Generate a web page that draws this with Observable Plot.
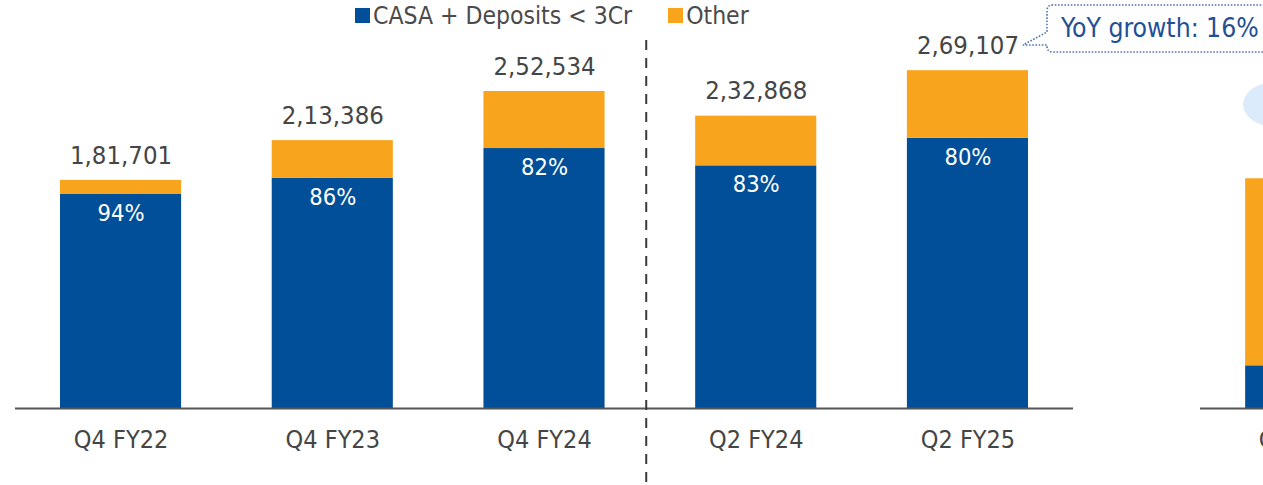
<!DOCTYPE html>
<html>
<head>
<meta charset="utf-8">
<script src="https://cdn.jsdelivr.net/npm/d3@7"></script>
<script src="https://cdn.jsdelivr.net/npm/@observablehq/plot@0.6"></script>
<style>
  html, body { margin: 0; padding: 0; background: #fff; }
  #wrap { position: relative; width: 1263px; height: 485px; overflow: hidden; font-family: "DejaVu Sans Condensed", "DejaVu Sans", sans-serif; }
  #wrap svg { position: absolute; top: 0; }
  .legend { position: absolute; top: 1px; left: 355px; display: flex; align-items: center; font-size: 24.5px; color: #4a4a4a; white-space: nowrap; }
  .legend .sw { display: inline-block; width: 15px; height: 15px; margin-right: 3px; }
  .legend .item { display: flex; align-items: center; margin-right: 36px; }
  .ellipse { position: absolute; left: 1243px; top: 82px; width: 66px; height: 45px; border-radius: 50%; background: #dcebfc; }
  .callout-text { position: absolute; left: 1061px; top: 13px; font-size: 26.3px; color: #1f4f96; white-space: nowrap; }
</style>
</head>
<body>
<div id="wrap"></div>
<script>
// ---- data ----
const categories = ["Q4 FY22", "Q4 FY23", "Q4 FY24", "Q2 FY24", "Q2 FY25"];
const totals = [181701, 213386, 252534, 232868, 269107];
const casaSharePct = [94, 86, 82, 83, 80];
const seriesNames = ["CASA + Deposits < 3Cr", "Other"];
const seriesColors = ["#004f98", "#f8a51d"];
const yoyGrowth = "YoY growth: 16%";
// partially visible neighbouring chart (cropped at right edge)
const sideCategories = ["Q2 FY25"];
const sideCasa = [34000];
const sideOther = [149000];

function fmtIN(n) {
  const s = String(Math.round(n));
  const last3 = s.slice(-3);
  let rest = s.slice(0, -3);
  rest = rest.replace(/\B(?=(\d{2})+(?!\d))/g, ",");
  return rest ? rest + "," + last3 : last3;
}

const rows = [];
categories.forEach((c, i) => {
  const casa = totals[i] * casaSharePct[i] / 100;
  rows.push({cat: c, series: seriesNames[0], value: casa});
  rows.push({cat: c, series: seriesNames[1], value: totals[i] - casa});
});
const totRows = categories.map((c, i) => ({cat: c, total: totals[i], casa: totals[i] * casaSharePct[i] / 100, pct: casaSharePct[i] + "%"}));

const sideRows = [];
sideCategories.forEach((c, i) => {
  sideRows.push({cat: c, series: seriesNames[0], value: sideCasa[i]});
  sideRows.push({cat: c, series: seriesNames[1], value: sideOther[i]});
});

const font = '"DejaVu Sans Condensed", "DejaVu Sans", sans-serif';
const textGray = "#454545";
const yDomain = [0, 325000];

const main = Plot.plot({
  width: 1263,
  height: 485,
  marginTop: 0,
  marginBottom: 77,
  marginLeft: 15,
  marginRight: 190,
  style: {fontFamily: font, color: textGray, background: "transparent", overflow: "visible"},
  x: {domain: categories, paddingInner: 0.428, paddingOuter: 0.2125, round: false, label: null},
  y: {domain: yDomain, axis: null},
  color: {domain: seriesNames, range: seriesColors},
  marks: [
    Plot.barY(rows, {x: "cat", y: "value", fill: "series", order: seriesNames}),
    Plot.ruleY([0], {stroke: "#555", strokeWidth: 2.2}),
    Plot.ruleX(["Q2 FY24"], {x: d => d, dx: -110, stroke: "#3a3a3a", strokeWidth: 2, strokeDasharray: "10,8", insetTop: 40, insetBottom: -77}),
    Plot.text(totRows, {x: "cat", y: "total", text: d => fmtIN(d.total), dy: -25, fontSize: 25.5, fill: textGray}),
    Plot.text(totRows, {x: "cat", y: "casa", text: "pct", dy: 19, fontSize: 23.5, fill: "#fff"}),
    Plot.axisX({tickSize: 0, tickPadding: 22, fontSize: 25, fill: textGray, label: null})
  ]
});
main.style.left = "0px";
document.getElementById("wrap").appendChild(main);

const side = Plot.plot({
  width: 211,
  height: 485,
  marginTop: 0,
  marginBottom: 77,
  marginLeft: 0,
  marginRight: 0,
  style: {fontFamily: font, color: textGray, background: "transparent", overflow: "visible"},
  x: {domain: sideCategories, paddingInner: 0.428, paddingOuter: 0.2125, round: false, label: null},
  y: {domain: yDomain, axis: null},
  color: {domain: seriesNames, range: seriesColors},
  marks: [
    Plot.barY(sideRows, {x: "cat", y: "value", fill: "series", order: seriesNames}),
    Plot.ruleY([0], {stroke: "#555", strokeWidth: 2.2}),
    Plot.axisX({tickSize: 0, tickPadding: 22, fontSize: 25, fill: textGray, label: null})
  ]
});
side.style.left = "1200px";
document.getElementById("wrap").appendChild(side);

// ellipse decoration
const ell = document.createElement("div");
ell.className = "ellipse";
document.getElementById("wrap").appendChild(ell);

// legend
const legend = document.createElement("div");
legend.className = "legend";
seriesNames.forEach((s, i) => {
  const item = document.createElement("span");
  item.className = "item";
  const sw = document.createElement("span");
  sw.className = "sw";
  sw.style.background = seriesColors[i];
  item.appendChild(sw);
  item.appendChild(document.createTextNode(s));
  legend.appendChild(item);
});
document.getElementById("wrap").appendChild(legend);

// callout
const ns = "http://www.w3.org/2000/svg";
const cs = document.createElementNS(ns, "svg");
cs.setAttribute("width", 1263); cs.setAttribute("height", 485);
cs.style.left = "0px";
const p = document.createElementNS(ns, "path");
p.setAttribute("d", "M1290,5 L1053,5 Q1047,5 1047,11 L1047,32 L1023,45 L1047,45 L1047,46 Q1047,52 1053,52 L1290,52");
p.setAttribute("fill", "#fff");
p.setAttribute("stroke", "#4f76b0");
p.setAttribute("stroke-width", "1.6");
p.setAttribute("stroke-dasharray", "1.6,1.6");
cs.appendChild(p);
document.getElementById("wrap").appendChild(cs);
const ct = document.createElement("div");
ct.className = "callout-text";
ct.textContent = yoyGrowth;
document.getElementById("wrap").appendChild(ct);
</script>
</body>
</html>
